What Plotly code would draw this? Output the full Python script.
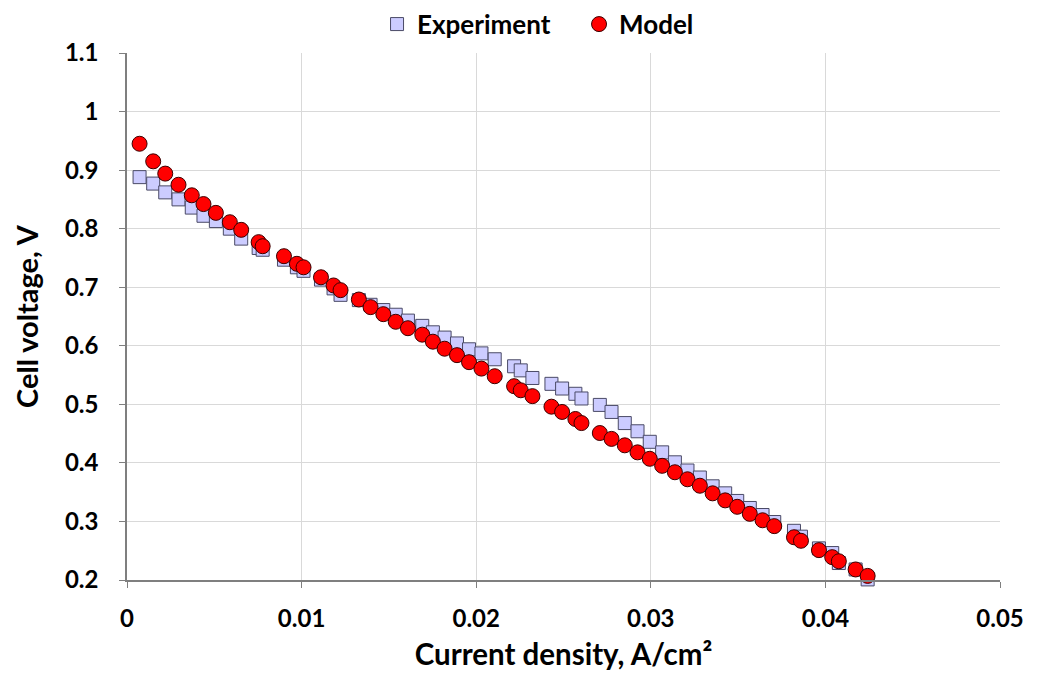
import plotly.graph_objects as go

# Current density (A/cm^2), shared by experiment and model
current_density = [
    0.00072, 0.00150, 0.00219, 0.00295, 0.00371, 0.00438, 0.00509, 0.00589, 0.00654, 0.00754,
    0.00777, 0.00899, 0.00973, 0.01011, 0.01111, 0.01183, 0.01223, 0.01328, 0.01395, 0.01468,
    0.01539, 0.01609, 0.01691, 0.01752, 0.01819, 0.01890, 0.01959, 0.02030, 0.02106, 0.02217,
    0.02255, 0.02322, 0.02431, 0.02492, 0.02568, 0.02603, 0.02708, 0.02775, 0.02851, 0.02924,
    0.02994, 0.03065, 0.03138, 0.03210, 0.03281, 0.03354, 0.03426, 0.03495, 0.03567, 0.03640,
    0.03707, 0.03820, 0.03860, 0.03963, 0.04039, 0.04077, 0.04173, 0.04242,
]

experiment_voltage = [
    0.888, 0.877, 0.862, 0.850, 0.836, 0.822, 0.813, 0.800, 0.783, 0.767,
    0.764, 0.747, 0.734, 0.728, 0.713, 0.698, 0.687, 0.678, 0.670, 0.661,
    0.653, 0.643, 0.634, 0.623, 0.614, 0.604, 0.594, 0.587, 0.577, 0.565,
    0.558, 0.545, 0.535, 0.527, 0.518, 0.510, 0.499, 0.487, 0.468, 0.454,
    0.436, 0.418, 0.401, 0.387, 0.375, 0.360, 0.348, 0.335, 0.323, 0.311,
    0.299, 0.284, 0.274, 0.254, 0.246, 0.229, 0.218, 0.201,
]

model_voltage = [
    0.945, 0.915, 0.894, 0.875, 0.857, 0.842, 0.827, 0.811, 0.798, 0.777,
    0.770, 0.753, 0.740, 0.734, 0.717, 0.703, 0.695, 0.679, 0.666, 0.654,
    0.641, 0.630, 0.619, 0.607, 0.595, 0.584, 0.572, 0.561, 0.548, 0.531,
    0.524, 0.514, 0.496, 0.487, 0.475, 0.468, 0.451, 0.441, 0.430, 0.418,
    0.407, 0.395, 0.384, 0.372, 0.361, 0.348, 0.336, 0.325, 0.313, 0.302,
    0.292, 0.273, 0.267, 0.251, 0.239, 0.232, 0.218, 0.207,
]

x_tick_vals = [0, 0.01, 0.02, 0.03, 0.04, 0.05]
x_tick_text = ["0", "0.01", "0.02", "0.03", "0.04", "0.05"]
y_tick_vals = [0.2, 0.3, 0.4, 0.5, 0.6, 0.7, 0.8, 0.9, 1.0, 1.1]
y_tick_text = ["0.2", "0.3", "0.4", "0.5", "0.6", "0.7", "0.8", "0.9", "1", "1.1"]

FONT = "Lato, 'Open Sans', sans-serif"

fig = go.Figure()
fig.add_trace(go.Scatter(
    x=current_density, y=experiment_voltage, mode="markers", name="Experiment",
    marker=dict(symbol="square", size=13, color="#ccccff",
                line=dict(color="#4a4a66", width=1)),
    cliponaxis=False,
))
fig.add_trace(go.Scatter(
    x=current_density, y=model_voltage, mode="markers", name="Model",
    marker=dict(symbol="circle", size=15, color="#ff0000",
                line=dict(color="#3a0000", width=1)),
    cliponaxis=False,
))

fig.update_layout(
    width=1043, height=674,
    margin=dict(l=119, r=51, t=45, b=102, autoexpand=False),
    paper_bgcolor="white", plot_bgcolor="white",
    font=dict(family=FONT, color="black", size=22),
    showlegend=True,
    legend=dict(orientation="h", xref="container", yref="container",
                x=0.5475, xanchor="center", y=0.976, yanchor="middle",
                font=dict(family=FONT, size=26, color="black", weight="bold"),
                itemwidth=30, tracegroupgap=0,
                entrywidth=157, entrywidthmode="pixels",
                bgcolor="rgba(0,0,0,0)"),
    xaxis=dict(
        range=[0, 0.05], tickvals=x_tick_vals, ticktext=x_tick_text,
        showgrid=True, gridcolor="#d9d9d9", gridwidth=1,
        showline=True, linecolor="#7f7f7f", linewidth=1.5,
        ticks="outside", ticklen=6, tickcolor="#7f7f7f",
        tickfont=dict(family=FONT, size=24, color="black", weight="bold"),
        ticklabelstandoff=10,
        zeroline=False, automargin=False,
        title=dict(text="Current density, A/cm²", standoff=14,
                   font=dict(family=FONT, size=29.5, color="black", weight="bold")),
    ),
    yaxis=dict(
        range=[0.2, 1.1], tickvals=y_tick_vals, ticktext=y_tick_text,
        showgrid=True, gridcolor="#d9d9d9", gridwidth=1,
        showline=True, linecolor="#7f7f7f", linewidth=1.5,
        ticks="outside", ticklen=6, tickcolor="#7f7f7f",
        tickfont=dict(family=FONT, size=24, color="black", weight="bold"),
        ticklabelstandoff=16,
        zeroline=False, automargin=False,
        title=dict(text="Cell voltage, V", standoff=18,
                   font=dict(family=FONT, size=29, color="black", weight="bold")),
    ),
)

fig.write_html("out.html")
